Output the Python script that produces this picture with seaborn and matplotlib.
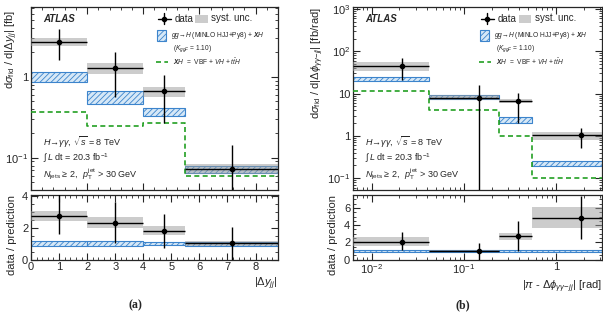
import numpy as np
import matplotlib
matplotlib.use("Agg")
import matplotlib.pyplot as plt
from matplotlib.ticker import FixedLocator, FixedFormatter, AutoMinorLocator, LogLocator, NullFormatter
from matplotlib.patches import Rectangle
from matplotlib.lines import Line2D
import seaborn as sns

# panel (a): |Delta y_jj|
dy_edges = [0, 2, 4, 5.5, 8.8]
dy_x = [1.0, 3.0, 4.75, 7.17]
dy_data = [2.73, 1.29, 0.67, 0.072]
dy_up = [3.88, 2.02, 1.04, 0.144]
dy_dn = [1.62, 0.57, 0.27, 0.01]
dy_syst_hi = [3.0, 1.48, 0.75, 0.084]
dy_syst_lo = [2.4, 1.09, 0.57, 0.062]
dy_pred_hi = [1.16, 0.67, 0.41, 0.080]
dy_pred_lo = [0.86, 0.46, 0.33, 0.065]
dy_xh = [0.37, 0.25, 0.27, 0.06]
dy_ratio = [2.75, 2.31, 1.79, 1.04]
dy_ratio_up = [4.2, 3.6, 2.87, 2.04]
dy_ratio_dn = [1.6, 1.06, 0.75, 0.0]
dy_ratio_syst_hi = [3.04, 2.66, 2.08, 1.18]
dy_ratio_syst_lo = [2.41, 1.97, 1.52, 0.88]
dy_ratio_pred_hi = [1.17, 1.17, 1.10, 1.12]
dy_ratio_pred_lo = [0.85, 0.87, 0.90, 0.88]

# panel (b): |pi - Delta phi_yy,jj|
dphi_edges = [0.0063, 0.0416, 0.2416, 0.5416, np.pi]
dphi_x = [0.0214, 0.146, 0.39, 1.85]
dphi_data = [44.7, 7.9, 6.6, 1.07]
dphi_up = [69, 15.6, 10.5, 1.55]
dphi_dn = [20.4, 0.01, 2.0, 0.52]
dphi_syst_hi = [56, 9.4, 7.4, 1.23]
dphi_syst_lo = [35, 7.2, 5.9, 0.8]
dphi_pred_hi = [25.3, 9.5, 2.86, 0.25]
dphi_pred_lo = [19.4, 7.3, 2.07, 0.19]
dphi_xh = [11.5, 4.1, 1.0, 0.1]
dphi_ratio = [2.1, 0.98, 2.77, 4.86]
dphi_ratio_up = [3.26, 1.9, 4.48, 7.33]
dphi_ratio_dn = [1.06, 0.0, 0.98, 2.39]
dphi_ratio_syst_hi = [2.65, 1.15, 3.08, 6.08]
dphi_ratio_syst_lo = [1.63, 0.85, 2.32, 3.65]
dphi_ratio_pred_hi = [1.15, 1.15, 1.15, 1.15]
dphi_ratio_pred_lo = [0.85, 0.85, 0.85, 0.85]

BLUE = "#3c84cc"
BLUE_FILL = "#d6e8f7"
GRAY = "#9a9a9a"
GREEN = "#22a022"

sns.set_theme(style="ticks")
plt.rcParams["font.family"] = ["Liberation Sans", "DejaVu Sans"]
plt.rcParams["mathtext.fontset"] = "custom"
plt.rcParams["mathtext.rm"] = "Liberation Sans"
plt.rcParams["mathtext.it"] = "Liberation Sans:italic"
plt.rcParams["mathtext.bf"] = "Liberation Sans:bold:italic"
plt.rcParams["hatch.linewidth"] = 0.6
plt.rcParams["axes.linewidth"] = 0.9


def bands(ax, edges, lo, hi, **kw):
    edges = np.asarray(edges)
    lo = np.asarray(lo)
    hi = np.asarray(hi)
    ax.bar(edges[:-1], hi - lo, width=np.diff(edges), bottom=lo, align="edge", **kw)


def draw_set(ax, edges, x, y, up, dn, s_lo, s_hi, p_lo, p_hi, xh=None):
    bands(ax, edges, p_lo, p_hi, facecolor=BLUE_FILL, edgecolor=BLUE, hatch="//////", linewidth=0.8, zorder=2)
    bands(ax, edges, s_lo, s_hi, color=GRAY, alpha=0.5, linewidth=0, zorder=3)
    if xh is not None:
        sns.lineplot(x=edges, y=list(xh) + [xh[-1]], ax=ax, sort=False, estimator=None,
                     drawstyle="steps-post", color=GREEN, linestyle=(0, (3, 2)), linewidth=1.2, zorder=4)
    x = np.asarray(x)
    y = np.asarray(y)
    e = np.asarray(edges)
    xerr = [x - e[:-1], e[1:] - x]
    yerr = [y - np.asarray(dn), np.asarray(up) - y]
    ax.errorbar(x, y, xerr=xerr, yerr=yerr, fmt="o", color="black", ms=3, lw=1.0, capsize=0, zorder=5)


def style(ax):
    ax.tick_params(which="both", direction="in", top=True, right=True, labelsize=8, pad=2)
    ax.tick_params(which="major", length=5, width=0.8)
    ax.tick_params(which="minor", length=2.5, width=0.6)


def legend(ax):
    t = ax.transAxes
    ax.add_line(Line2D([0.515, 0.565], [0.935, 0.935], transform=t, color="black", lw=1))
    ax.add_line(Line2D([0.54, 0.54], [0.905, 0.965], transform=t, color="black", lw=1))
    ax.plot([0.54], [0.935], "o", color="black", ms=3, transform=t)
    ax.text(0.58, 0.935, "data", transform=t, fontsize=7, va="center")
    ax.add_patch(Rectangle((0.665, 0.91), 0.05, 0.045, transform=t, color=GRAY, alpha=0.5, lw=0))
    ax.text(0.73, 0.94, "syst. unc.", transform=t, fontsize=7, va="center")
    ax.add_patch(Rectangle((0.51, 0.815), 0.035, 0.06, transform=t, facecolor=BLUE_FILL,
                           edgecolor=BLUE, hatch="//////", lw=0.8))
    ax.text(0.565, 0.845, r"$gg\!\rightarrow\! H$ (MiNLO HJJ+Py8) + $\mathbf{X}H$", transform=t, fontsize=4.8, va="center")
    ax.text(0.575, 0.775, r"($K_{ggF}$ = 1.10)", transform=t, fontsize=4.8, va="center")
    ax.add_line(Line2D([0.505, 0.555], [0.7, 0.7], transform=t, color=GREEN, lw=1.2, linestyle=(0, (3, 2))))
    ax.text(0.575, 0.7, r"$\mathbf{X}H$  =  VBF + $VH$ + $t\bar{t}H$", transform=t, fontsize=4.8, va="center")
    ax.text(0.05, 0.935, "ATLAS", transform=t, fontsize=7, fontweight="bold", fontstyle="italic", va="center")
    ax.text(0.05, 0.26, r"$H\!\rightarrow\!\gamma\gamma$, $\sqrt{s}$ = 8 TeV", transform=t, fontsize=6.5, va="center")
    ax.text(0.05, 0.175, r"$\int\, L$ dt = 20.3 fb$^{-1}$", transform=t, fontsize=6.5, va="center")
    ax.text(0.05, 0.085, r"$N_{\rm jets}$$\geq$ 2,  $p_{\rm T}^{\rm jet}$ > 30 GeV", transform=t, fontsize=6.5, va="center")


fig = plt.figure(figsize=(6.03, 3.17), dpi=100)
ax_a = fig.add_axes([0.0514, 0.401, 0.4096, 0.577])
ax_ar = fig.add_axes([0.0514, 0.181, 0.4096, 0.204])
ax_b = fig.add_axes([0.5854, 0.401, 0.4129, 0.577])
ax_br = fig.add_axes([0.5854, 0.181, 0.4129, 0.204])

# (a) main
draw_set(ax_a, dy_edges, dy_x, dy_data, dy_up, dy_dn, dy_syst_lo, dy_syst_hi, dy_pred_lo, dy_pred_hi, dy_xh)
ax_a.set_yscale("log")
ax_a.set_xlim(0, 8.8)
ax_a.set_ylim(0.04, 7.3)
ax_a.yaxis.set_major_locator(FixedLocator([0.1, 1]))
ax_a.yaxis.set_major_formatter(FixedFormatter([r"$10^{-1}$", "1"]))
ax_a.yaxis.set_minor_locator(LogLocator(subs=np.arange(2, 10)))
ax_a.yaxis.set_minor_formatter(NullFormatter())
ax_a.xaxis.set_minor_locator(AutoMinorLocator(5))
ax_a.set_xticklabels([])
ax_a.set_ylabel(r"d$\sigma_{\rm fid}$ / d$|\Delta y_{jj}|$ [fb]", fontsize=8)
ax_a.yaxis.set_label_coords(-0.045, 0.985)
ax_a.yaxis.label.set_horizontalalignment("right")
style(ax_a)
legend(ax_a)

# (a) ratio
draw_set(ax_ar, dy_edges, dy_x, dy_ratio, dy_ratio_up, dy_ratio_dn, dy_ratio_syst_lo, dy_ratio_syst_hi,
         dy_ratio_pred_lo, dy_ratio_pred_hi)
ax_ar.set_xlim(0, 8.8)
ax_ar.set_ylim(0, 4.05)
ax_ar.set_yticks([0, 2, 4])
ax_ar.set_xticks(range(0, 9))
ax_ar.xaxis.set_minor_locator(AutoMinorLocator(5))
ax_ar.yaxis.set_minor_locator(AutoMinorLocator(4))
ax_ar.set_ylabel("data / prediction", fontsize=8)
ax_ar.yaxis.set_label_coords(-0.055, 1.0)
ax_ar.yaxis.label.set_horizontalalignment("right")
ax_ar.set_xlabel(r"$|\Delta y_{jj}|$", loc="right", fontsize=8, labelpad=2)
style(ax_ar)

# (b) main
draw_set(ax_b, dphi_edges, dphi_x, dphi_data, dphi_up, dphi_dn, dphi_syst_lo, dphi_syst_hi, dphi_pred_lo,
         dphi_pred_hi, dphi_xh)
ax_b.set_xscale("log")
ax_b.set_yscale("log")
ax_b.set_xlim(0.0063, np.pi)
ax_b.set_ylim(0.053, 1115)
ax_b.yaxis.set_major_locator(FixedLocator([0.1, 1, 10, 100, 1000]))
ax_b.yaxis.set_major_formatter(FixedFormatter([r"$10^{-1}$", "1", "10", r"$10^{2}$", r"$10^{3}$"]))
ax_b.yaxis.set_minor_locator(LogLocator(subs=np.arange(2, 10)))
ax_b.yaxis.set_minor_formatter(NullFormatter())
ax_b.xaxis.set_minor_locator(LogLocator(subs=np.arange(2, 10)))
ax_b.set_xticklabels([], minor=True)
ax_b.set_xticklabels([])
ax_b.set_ylabel(r"d$\sigma_{\rm fid}$ / d$|\Delta\phi_{\gamma\gamma\!-\!jj}|$ [fb/rad]", loc="top", fontsize=8, labelpad=1)
style(ax_b)
legend(ax_b)

# (b) ratio
draw_set(ax_br, dphi_edges, dphi_x, dphi_ratio, dphi_ratio_up, dphi_ratio_dn, dphi_ratio_syst_lo,
         dphi_ratio_syst_hi, dphi_ratio_pred_lo, dphi_ratio_pred_hi)
ax_br.set_xscale("log")
ax_br.set_xlim(0.0063, np.pi)
ax_br.set_ylim(0, 7.5)
ax_br.set_yticks([0, 2, 4, 6])
ax_br.yaxis.set_minor_locator(AutoMinorLocator(4))
ax_br.xaxis.set_major_locator(FixedLocator([0.01, 0.1, 1]))
ax_br.xaxis.set_major_formatter(FixedFormatter([r"$10^{-2}$", r"$10^{-1}$", "1"]))
ax_br.xaxis.set_minor_locator(LogLocator(subs=np.arange(2, 10)))
ax_br.xaxis.set_minor_formatter(NullFormatter())
ax_br.set_ylabel("data / prediction", loc="top", fontsize=8, labelpad=4)
ax_br.set_xlabel(r"$|\pi$ - $\Delta\phi_{\gamma\gamma\!-\!jj}|$ [rad]", loc="right", fontsize=8, labelpad=2)
style(ax_br)

fig.text(0.225, 0.028, "(a)", fontsize=8.5, fontweight="bold", family="Liberation Serif", ha="center")
fig.text(0.768, 0.028, "(b)", fontsize=8.5, fontweight="bold", family="Liberation Serif", ha="center")

fig.savefig("out.png", dpi=100)
